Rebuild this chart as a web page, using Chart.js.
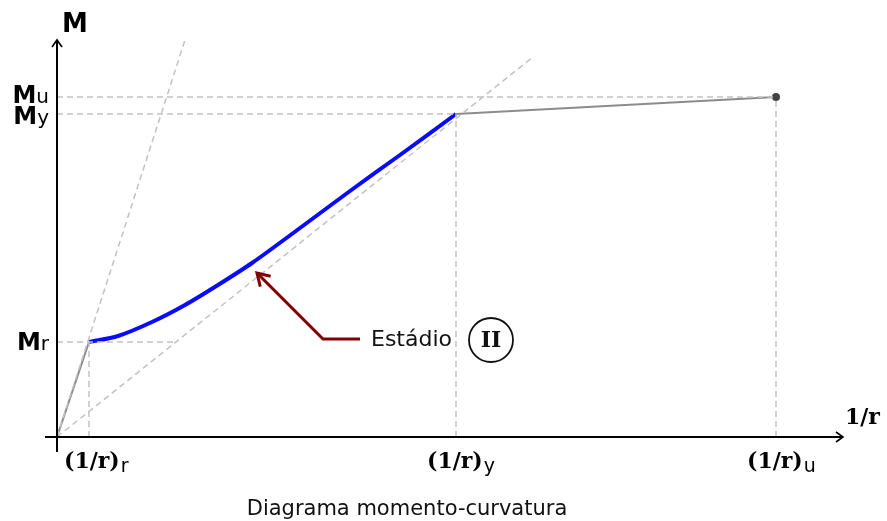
<!DOCTYPE html>
<html>
<head>
<meta charset="utf-8">
<script src="https://cdn.jsdelivr.net/npm/chart.js@4/dist/chart.umd.min.js"></script>
<style>
html,body{margin:0;padding:0;background:#fff;}
#wrap{width:887px;height:521px;position:relative;}
</style>
</head>
<body>
<div id="wrap"><canvas id="c"></canvas></div>
<script>
// ---- values (curvature 1/r, moment M; arbitrary units) ----
const curvR = 0.32, curvY = 3.99, curvU = 7.19;      // (1/r)r, (1/r)y, (1/r)u
const momR = 0.95, momY = 3.23, momU = 3.40;          // Mr, My, Mu
const xMax = 7.86, yMax = 3.97;                       // axis extents (arrow tips)

// Stage II curve (Mr -> My)
const stage2X = [0.32, 0.61, 0.95, 1.28, 1.61, 1.95, 2.43, 2.93, 3.43, 3.99];
const stage2M = [0.95, 1.01, 1.15, 1.32, 1.52, 1.74, 2.09, 2.46, 2.82, 3.23];

// Stage I (origin -> Mr) and Stage III (My -> Mu)
const stage1X = [0, curvR], stage1M = [0, momR];
const stage3X = [curvY, curvU], stage3M = [momY, momU];

// Dashed reference lines
const uncrackedX = [0, 1.28], uncrackedM = [0, 3.97];   // stiffness of stage I
const secantX = [0, 4.76], secantM = [0, 3.80];         // secant to yield
const mrLineX = [0, 1.18];                              // Mr horizontal guide end

// Annotation arrow (tip, elbow, end) and label position
const arrowX = [2.00, 2.66, 3.03], arrowM = [1.64, 0.98, 0.98];
const labelX = 3.14, labelM = 0.97, circleX = 4.34;

const yLabels = [["M", "u", momU, 6], ["M", "y", momY, 10], ["M", "r", momR, 8]];
const xLabels = [["(1/r)", "r", curvR], ["(1/r)", "y", curvY], ["(1/r)", "u", curvU]];

const pts = (xs, ys) => xs.map((x, i) => ({x: x, y: ys[i]}));
const dashed = (data) => ({data, borderColor:'#c2c2c2', borderWidth:1.5, borderDash:[6,4], pointRadius:0, fill:false, tension:0, clip:false});

const datasets = [
  dashed(pts(uncrackedX, uncrackedM)),
  dashed(pts(secantX, secantM)),
  dashed(pts([0, curvU], [momU, momU])),
  dashed(pts([0, curvY], [momY, momY])),
  dashed(pts(mrLineX, [momR, momR])),
  dashed(pts([curvR, curvR], [0, momR])),
  dashed(pts([curvY, curvY], [0, momY])),
  dashed(pts([curvU, curvU], [0, momU])),
  {data: pts(stage1X, stage1M), borderColor:'#8c8c8c', borderWidth:2, pointRadius:0, tension:0},
  {data: pts(stage3X, stage3M), borderColor:'#8c8c8c', borderWidth:2, pointRadius:[0,3], pointBackgroundColor:'#444', pointBorderColor:'#444', tension:0},
  {data: pts(stage2X, stage2M), borderColor:'#0a0aff', borderWidth:4, pointRadius:0, tension:0.3},
];

const decor = {
  id:'decor',
  afterDatasetsDraw(chart){
    const ctx = chart.ctx, xs = chart.scales.x, ys = chart.scales.y;
    const X = v => xs.getPixelForValue(v), Y = v => ys.getPixelForValue(v);
    const x0 = X(0), y0 = Y(0), xe = X(xMax), ye = Y(yMax);
    ctx.save();
    // axes
    ctx.strokeStyle = '#000'; ctx.lineWidth = 2; ctx.lineCap = 'butt';
    ctx.beginPath();
    ctx.moveTo(x0 - 12, y0); ctx.lineTo(xe, y0);
    ctx.moveTo(x0, y0 + 15); ctx.lineTo(x0, ye);
    ctx.stroke();
    ctx.lineWidth = 1.6;
    ctx.beginPath();
    ctx.moveTo(xe - 7, y0 - 5); ctx.lineTo(xe, y0); ctx.lineTo(xe - 7, y0 + 5);
    ctx.moveTo(x0 - 5, ye + 7); ctx.lineTo(x0, ye); ctx.lineTo(x0 + 5, ye + 7);
    ctx.stroke();

    // axis titles
    ctx.fillStyle = '#000';
    ctx.textBaseline = 'alphabetic';
    ctx.font = 'bold 26px "DejaVu Sans"';
    ctx.textAlign = 'left';
    ctx.fillText('M', x0 + 5, ye - 8);
    ctx.font = 'bold 22px "DejaVu Serif"';
    ctx.fillText('1/r', xe + 2, y0 - 13);

    // y labels
    yLabels.forEach(([m, s, v, off]) => {
      const py = Y(v);
      ctx.font = 'bold 24px "DejaVu Sans"';
      ctx.textAlign = 'left';
      const w = ctx.measureText(m).width;
      ctx.font = '20px "DejaVu Sans"';
      const ws = ctx.measureText(s).width;
      const start = x0 - 8 - w - ws;
      ctx.font = 'bold 24px "DejaVu Sans"';
      ctx.fillText(m, start, py + off);
      ctx.font = '20px "DejaVu Sans"';
      ctx.fillText(s, start + w, py + off);
    });

    // x labels
    xLabels.forEach(([m, s, v], i) => {
      const px = X(v);
      ctx.font = 'bold 22px "DejaVu Serif"';
      const w = ctx.measureText(m).width;
      let start = px - 29;
      if (i === 0) start = x0 + 7;
      ctx.fillText(m, start, y0 + 31);
      ctx.font = '19px "DejaVu Sans"';
      ctx.fillText(s, start + w + 1, y0 + 35);
    });

    // annotation arrow
    ctx.strokeStyle = '#800000'; ctx.lineWidth = 3; ctx.lineJoin = 'miter';
    ctx.beginPath();
    ctx.moveTo(X(arrowX[2]), Y(arrowM[2]));
    ctx.lineTo(X(arrowX[1]), Y(arrowM[1]));
    ctx.lineTo(X(arrowX[0]), Y(arrowM[0]));
    ctx.stroke();
    const tx = X(arrowX[0]), ty = Y(arrowM[0]);
    const ang = Math.atan2(Y(arrowM[1]) - ty, X(arrowX[1]) - tx);
    const L = 14, a = 0.55;
    ctx.beginPath();
    ctx.moveTo(tx + L*Math.cos(ang - a), ty + L*Math.sin(ang - a));
    ctx.lineTo(tx, ty);
    ctx.lineTo(tx + L*Math.cos(ang + a), ty + L*Math.sin(ang + a));
    ctx.stroke();

    // label "Estádio (II)"
    ctx.fillStyle = '#111';
    ctx.font = '22px "DejaVu Sans"';
    ctx.textAlign = 'left'; ctx.textBaseline = 'middle';
    ctx.fillText('Estádio', X(labelX), Y(labelM));
    const cx = X(circleX), cy = Y(labelM);
    ctx.strokeStyle = '#111'; ctx.lineWidth = 1.8;
    ctx.beginPath(); ctx.arc(cx, cy, 22, 0, Math.PI*2); ctx.stroke();
    ctx.font = 'bold 22px "DejaVu Serif"';
    ctx.textAlign = 'center';
    ctx.fillText('II', cx, cy + 1);

    // caption
    ctx.fillStyle = '#111';
    ctx.font = '21px "DejaVu Sans"';
    ctx.textAlign = 'center'; ctx.textBaseline = 'alphabetic';
    ctx.fillText('Diagrama momento-curvatura', 407, 515);
    ctx.restore();
  }
};

new Chart(document.getElementById('c'), {
  type: 'line',
  data: { datasets },
  options: {
    responsive: true, maintainAspectRatio: false, animation: false,
    layout: { padding: { left: 57, right: 44, top: 40, bottom: 84 } },
    plugins: { legend: {display:false}, tooltip: {enabled:false} },
    scales: {
      x: { type:'linear', min:0, max:xMax, display:false },
      y: { type:'linear', min:0, max:yMax, display:false }
    }
  },
  plugins: [decor]
});
</script>
</body>
</html>
